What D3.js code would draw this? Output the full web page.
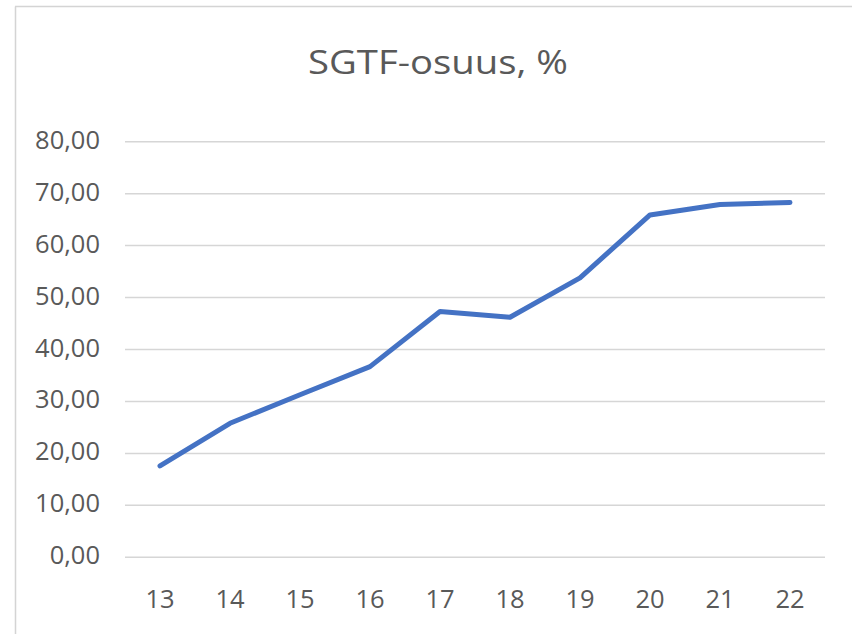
<!DOCTYPE html>
<html>
<head>
<meta charset="utf-8">
<script src="https://cdn.jsdelivr.net/npm/d3@7"></script>
<style>
  html, body { margin: 0; padding: 0; background: #fff; }
  svg { display: block; }
  text { font-family: "Open Sans", "Noto Sans", sans-serif; fill: #595959; }
</style>
</head>
<body>
<svg id="chart" width="852" height="634"></svg>
<script>
const title = "SGTF-osuus, %";
const categories = ["13", "14", "15", "16", "17", "18", "19", "20", "21", "22"];
const values = [17.6, 25.8, 31.3, 36.7, 47.3, 46.2, 53.8, 65.9, 67.9, 68.3];
const yTicks = [0, 10, 20, 30, 40, 50, 60, 70, 80];

const svg = d3.select("#chart");
const W = 852, H = 634;
const plot = { left: 125, right: 825, top: 141.7, bottom: 557.3 };

// chart frame (left and top edges visible)
svg.append("line").attr("x1", 15.5).attr("x2", 15.5).attr("y1", 6.5).attr("y2", H)
  .attr("stroke", "#d4d4d4").attr("stroke-width", 1.5);
svg.append("line").attr("x1", 15).attr("x2", W).attr("y1", 6.5).attr("y2", 6.5)
  .attr("stroke", "#d4d4d4").attr("stroke-width", 1.5);

const x = d3.scaleBand().domain(categories).range([plot.left, plot.right]);
const y = d3.scaleLinear().domain([0, 80]).range([plot.bottom, plot.top]);
const fmt = v => d3.format(".2f")(v).replace(".", ",");

// gridlines
svg.append("g").selectAll("line").data(yTicks).join("line")
  .attr("x1", plot.left).attr("x2", plot.right)
  .attr("y1", d => y(d)).attr("y2", d => y(d))
  .attr("stroke", "#d6d6d6").attr("stroke-width", 1.5);

// y labels
svg.append("g").selectAll("text").data(yTicks).join("text")
  .attr("x", 100).attr("y", d => y(d) + 7)
  .attr("text-anchor", "end")
  .attr("font-size", 25.5)
  .text(d => fmt(d));

// x labels
svg.append("g").selectAll("text").data(categories).join("text")
  .attr("x", d => x(d) + x.bandwidth() / 2).attr("y", 608)
  .attr("text-anchor", "middle")
  .attr("font-size", 25.5)
  .text(d => d);

// line
const line = d3.line()
  .x((d, i) => x(categories[i]) + x.bandwidth() / 2)
  .y(d => y(d));
svg.append("path").datum(values)
  .attr("d", line)
  .attr("fill", "none")
  .attr("stroke", "#4472C4")
  .attr("stroke-width", 5)
  .attr("stroke-linejoin", "round")
  .attr("stroke-linecap", "round");

// title
svg.append("text")
  .attr("x", 438).attr("y", 74)
  .attr("text-anchor", "middle")
  .attr("font-size", 32.5)
  .attr("textLength", 260)
  .attr("lengthAdjust", "spacingAndGlyphs")
  .text(title);
</script>
</body>
</html>
